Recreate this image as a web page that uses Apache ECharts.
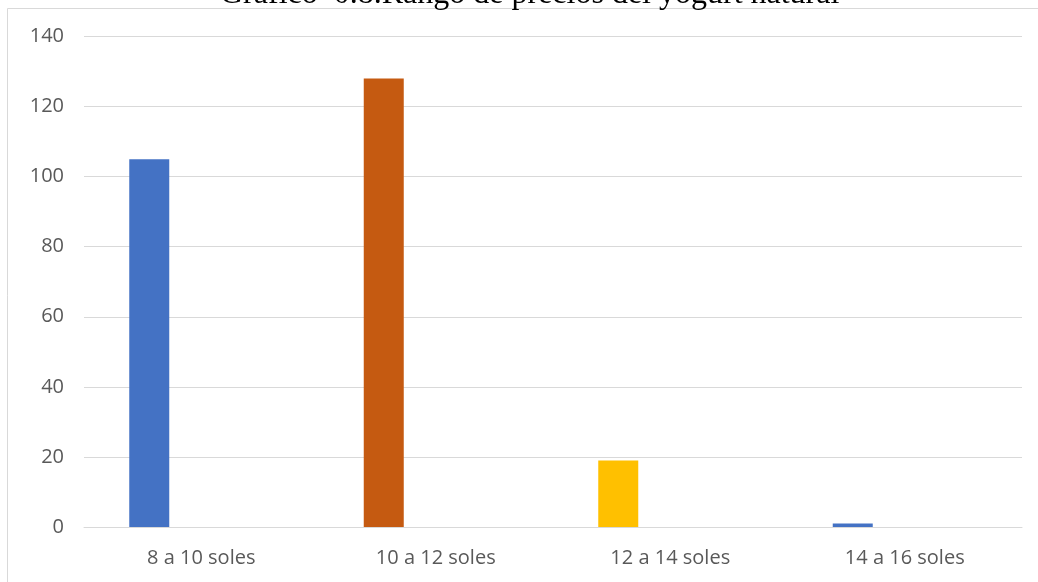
<!DOCTYPE html>
<html>
<head>
<meta charset="utf-8">
<script src="https://cdn.jsdelivr.net/npm/echarts@6/dist/echarts.min.js"></script>
<style>
  html, body { margin: 0; padding: 0; background: #ffffff; }
  #chart { width: 1038px; height: 582px; }
</style>
</head>
<body>
<div id="chart"></div>
<script>
// Price ranges of natural yogurt and how many answers fell in each
const categories = ['8 a 10 soles', '10 a 12 soles', '12 a 14 soles', '14 a 16 soles'];
const counts = [105, 128, 19, 1];
const barColors = ['#4472C4', '#C55A11', '#FFC000', '#4472C4'];
const yTicks = { min: 0, max: 140, interval: 20 };
const titleText = 'Gráfico  0.8.Rango de precios del yogurt natural';

const chart = echarts.init(document.getElementById('chart'), null, { renderer: 'canvas' });

const labelFont = { fontFamily: '"Open Sans", sans-serif', fontSize: 20, color: '#595959' };

chart.setOption({
  animation: false,
  backgroundColor: '#ffffff',
  title: {
    text: titleText,
    left: 220,
    top: -21,
    padding: 0,
    textStyle: {
      fontFamily: '"Liberation Serif", "Times New Roman", serif',
      fontSize: 32,
      fontWeight: 'normal',
      color: '#000000',
      lineHeight: 32
    }
  },
  graphic: [{
    type: 'rect',
    silent: true,
    shape: { x: 7.5, y: 8.5, width: 1100, height: 700 },
    style: { fill: 'none', stroke: '#d9d9d9', lineWidth: 1 }
  }],
  grid: { left: 84, right: 16, top: 36.5, bottom: 55, containLabel: false },
  xAxis: {
    type: 'category',
    data: categories,
    axisTick: { show: false },
    axisLine: { lineStyle: { color: '#d9d9d9', width: 1 } },
    axisLabel: Object.assign({ margin: 21 }, labelFont)
  },
  yAxis: {
    type: 'value',
    min: yTicks.min,
    max: yTicks.max,
    interval: yTicks.interval,
    axisLine: { show: false },
    axisTick: { show: false },
    splitLine: { lineStyle: { color: '#d9d9d9', width: 1 } },
    axisLabel: Object.assign({ margin: 20 }, labelFont)
  },
  series: [
    {
      name: 'Cantidad',
      type: 'bar',
      barWidth: 40,
      barGap: '160%',
      data: counts.map((v, i) => ({ value: v, itemStyle: { color: barColors[i] } }))
    },
    {
      // second slot of each cluster stays empty
      name: 'Vacío',
      type: 'bar',
      barWidth: 40,
      data: categories.map(() => null)
    }
  ]
});
</script>
</body>
</html>
